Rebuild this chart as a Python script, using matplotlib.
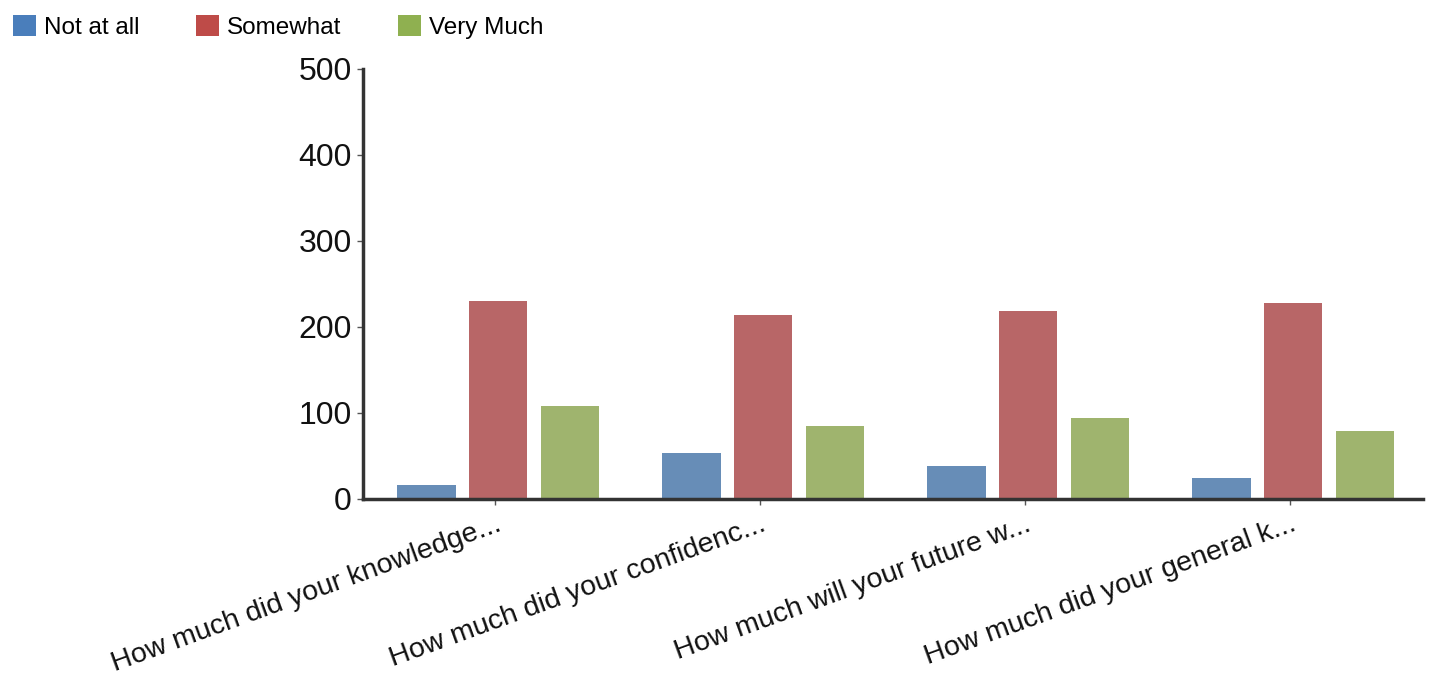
import matplotlib.pyplot as plt
import numpy as np
from matplotlib.patches import Patch

plt.rcParams["font.family"] = ["Liberation Sans", "DejaVu Sans"]

# data
questions = [
    "How much did your knowledge...",
    "How much did your confidenc...",
    "How much will your future w...",
    "How much did your general k...",
]
series = ["Not at all", "Somewhat", "Very Much"]
not_at_all = [16, 53, 38, 24]
somewhat = [230, 214, 219, 228]
very_much = [108, 85, 94, 79]

bar_colors = ["#678db7", "#b86667", "#9fb46e"]
legend_colors = ["#4a7ebb", "#be4b48", "#8fb050"]

fig = plt.figure(figsize=(14.41, 6.83), dpi=100)
ax = fig.add_axes([0.2519, 0.2694, 0.7356, 0.6296])

x = np.arange(len(questions))
width = 0.22
step = 0.27
for i, vals in enumerate([not_at_all, somewhat, very_much]):
    ax.bar(x + 0.01 + (i - 1) * step, vals, width, color=bar_colors[i],
           edgecolor="none", zorder=2)

ax.set_xlim(-0.5, len(questions) - 0.5)
ax.set_ylim(0, 500)
ax.set_yticks(np.arange(0, 501, 100))
ax.set_xticks(x)
ax.set_xticklabels(questions, rotation=20, ha="right", va="top",
                   rotation_mode="anchor", fontsize=20.5, color="#111111")
ax.tick_params(axis="y", labelsize=23, length=4, width=1, color="#555555",
               labelcolor="#111111", pad=4)
ax.tick_params(axis="x", length=4, width=1, color="#555555", pad=5)

for s in ["top", "right"]:
    ax.spines[s].set_visible(False)
for s in ["left", "bottom"]:
    ax.spines[s].set_color("#333333")
    ax.spines[s].set_linewidth(2.5)

handles = [Patch(facecolor=c, edgecolor="none") for c in legend_colors]
fig.legend(handles, series, loc="upper left", bbox_to_anchor=(-0.003, 1.003),
           ncol=3, frameon=False, fontsize=17.5, handlelength=0.95,
           handleheight=0.95, handletextpad=0.35, columnspacing=2.3,
           borderaxespad=0.3)

fig.savefig("out.png", dpi=100)
